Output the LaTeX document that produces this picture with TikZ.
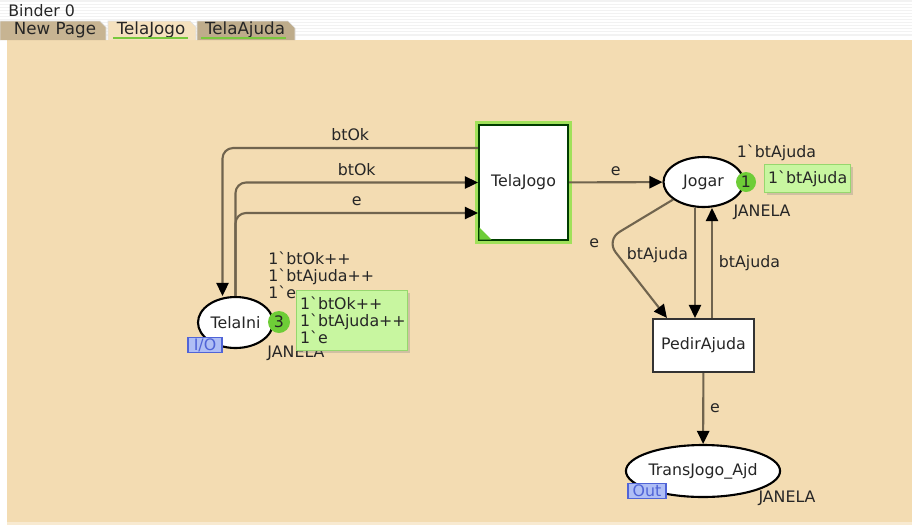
\documentclass[tikz,border=0pt]{standalone}
\usepackage{fontspec}
\setmainfont{DejaVu Sans}
\usepackage{color}
\usetikzlibrary{arrows.meta,shapes.geometric,shadows}

\definecolor{canvas}{RGB}{243,220,178}
\definecolor{arcline}{RGB}{112,100,78}
\definecolor{tokgreen}{RGB}{110,205,55}
\definecolor{markgreen}{RGB}{200,246,160}
\definecolor{markedge}{RGB}{150,215,110}
\definecolor{glow}{RGB}{160,225,90}
\definecolor{tagblue}{RGB}{80,100,215}
\definecolor{tagfill}{RGB}{175,190,245}
\definecolor{underline}{RGB}{120,200,60}

\newcommand{\grv}{\textasciigrave}

\begin{document}
\begin{tikzpicture}[x=0.02cm,y=-0.02cm,>={Triangle[length=7.5pt,width=7pt,color=black]},
					font=\fontsize{9}{10}\selectfont,text=black!85,
					place/.style={ellipse,draw=black,line width=1.2pt,fill=white,inner sep=0pt},
					transition/.style={rectangle,draw=black!80,line width=1.2pt,fill=white,inner sep=0pt},
					arc/.style={->,draw=arcline,line width=1.2pt,rounded corners=6pt},
					token/.style={circle,fill=tokgreen,inner sep=0pt,minimum size=0.4cm},
					marking/.style={fill=markgreen,draw=markedge,line width=0.6pt,align=left,inner xsep=2pt,
						drop shadow={shadow xshift=1.5pt,shadow yshift=-1.5pt,opacity=0.3}},
					tag/.style={fill=tagfill,draw=tagblue,text=tagblue,line width=0.8pt,inner sep=0pt,minimum height=0.3cm},
					pagetab/.style={fill=#1,draw=black!12,line width=0.4pt}]
	
	\useasboundingbox (0,0) rectangle (912,525);
	
	% header and page
	\fill[white] (0,0) rectangle (912,525);
	\fill[black!5] (0,0) rectangle (912,36);
	\foreach \y in {3,6,...,33}
		\draw[white,line width=0.6pt] (0,\y) -- (912,\y);
	\fill[canvas] (7,40) rectangle (912,522);
	\fill[canvas!60] (7,522) rectangle (912,525);
	\node[anchor=west,inner sep=0pt] (binder) at (8,11) {Binder 0};
	
	\filldraw[pagetab={black!18!canvas}] (0,40) -- (0,21) -- (100,21) -- (106,27) -- (106,40);
	\filldraw[pagetab={canvas!85!white}] (108,40) -- (108,21) -- (190,21) -- (196,27) -- (196,40);
	\filldraw[pagetab={black!22!canvas}] (197,40) -- (197,21) -- (288,21) -- (295,28) -- (295,40);
	\node[font=\fontsize{9.5}{10}\selectfont] (tab1) at (55,30) {New Page};
	\node[font=\fontsize{9.5}{10}\selectfont] (tab2) at (151,30) {TelaJogo};
	\node[font=\fontsize{9.5}{10}\selectfont] (tab3) at (245,30) {TelaAjuda};
	\draw[underline,line width=1.2pt] (113,38) -- (188,38);
	\draw[underline,line width=1.2pt] (201,38) -- (286,38);
	
	% places and transitions
	\node[transition,minimum width=1.78cm,minimum height=2.3cm,draw=black!60!green!60!black,
		preaction={draw=glow,line width=4.5pt}] (telajogo) at (523.5,182.5) {TelaJogo};
	\fill[tokgreen] ([shift={(1.5,-1.5)}]telajogo.south west) -- ++(12,0) -- ++(-12,-12) -- cycle;
	\node[place,minimum width=1.6cm,minimum height=1cm] (jogar) at (703.5,182) {Jogar};
	\node[transition,minimum width=2.02cm,minimum height=1.06cm] (pedir) at (703.5,345.5) {PedirAjuda};
	\node[place,minimum width=3cm,minimum height=1.04cm] (transjogo) at (703,471) {TransJogo\_Ajd};
	\node[place,minimum width=1.5cm,minimum height=1.02cm] (telaini) at (235.5,322.5) {TelaIni};
	
	% arcs
	\draw[arc] ([yshift=0.69cm]telajogo.west) -| node[pos=0.25,above] {btOk} ([xshift=-0.26cm]telaini.north);
	\draw[arc] (telaini.north) |- node[pos=0.75,above] {btOk} (telajogo.west);
	\draw[arc] (telaini.north) |- node[pos=0.75,above] {e} ([yshift=-0.61cm]telajogo.west);
	\draw[arc] (telajogo) -- node[above] {e} (jogar);
	\draw[arc,rounded corners=9pt] (jogar.210) -- (606,240) node[left,yshift=-2pt] {e} -- ([xshift=0.3cm]pedir.north west);
	\draw[arc] ([xshift=-0.17cm]jogar.south) -- node[left,pos=0.43] {btAjuda} ([xshift=-0.17cm]pedir.north);
	\draw[arc] ([xshift=0.17cm]pedir.north) -- node[right] {btAjuda} ([xshift=0.17cm]jogar.south);
	\draw[arc] (pedir) -- node[right] {e} (transjogo);
	
	% markings
	\node[token] (tok1) at (746,182) {1};
	\node (ini1) at (776.5,153) {1\grv btAjuda};
	\node[marking,anchor=west,minimum height=0.42cm] (mark1) at (764,178.5) {1\grv btAjuda};
	\node (col1) at (762,212) {JANELA};
	
	\node[token,minimum size=0.44cm] (tok3) at (279,322) {3};
	\node[align=left,anchor=west,inner sep=0pt,font=\fontsize{9}{9.6}\selectfont] (ini3) at (268,275)
		{1\grv btOk++\\1\grv btAjuda++\\1\grv e};
	\node (col3) at (296,353) {JANELA};
	\node[marking,anchor=north west,text width=59pt,minimum height=1.2cm,font=\fontsize{9}{9.6}\selectfont] (mark3)
		at (296,290) {1\grv btOk++\\1\grv btAjuda++\\1\grv e};
	\node[tag,minimum width=0.68cm] (io) at (205,345) {I/O};
	
	\node[tag,minimum width=0.76cm] (out) at (647,491) {Out};
	\node (col2) at (787,498) {JANELA};
	
\end{tikzpicture}
\end{document}
